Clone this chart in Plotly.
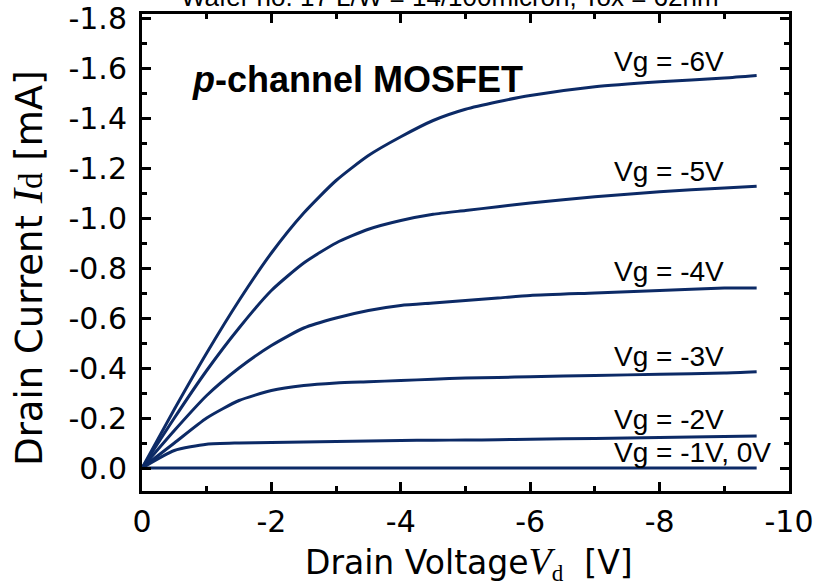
import plotly.graph_objects as go

# ---------------- data ----------------
vd = [0, -0.5, -1, -1.5, -2, -2.5, -3, -3.5, -4, -4.5, -5, -5.5, -6, -7, -8, -9, -9.5]

id_vg6 = [0, -0.235, -0.46, -0.67, -0.86, -1.02, -1.15, -1.25, -1.325, -1.39, -1.435, -1.465, -1.49, -1.525, -1.545, -1.56, -1.57]
id_vg5 = [0, -0.20, -0.39, -0.56, -0.71, -0.82, -0.90, -0.955, -0.99, -1.015, -1.03, -1.045, -1.06, -1.085, -1.105, -1.12, -1.127]
id_vg4 = [0, -0.15, -0.29, -0.40, -0.49, -0.56, -0.60, -0.63, -0.65, -0.66, -0.67, -0.68, -0.69, -0.70, -0.71, -0.72, -0.72]
id_vg3 = [0, -0.10, -0.20, -0.27, -0.31, -0.33, -0.34, -0.345, -0.35, -0.355, -0.36, -0.362, -0.365, -0.37, -0.375, -0.38, -0.385]
id_vg2 = [0, -0.07, -0.095, -0.10, -0.102, -0.104, -0.106, -0.108, -0.11, -0.111, -0.112, -0.113, -0.115, -0.118, -0.122, -0.126, -0.128]
id_vg1 = [0, 0, 0, 0, 0, 0, 0, 0, 0, 0, 0, 0, 0, 0, 0, 0, 0]

series = [id_vg6, id_vg5, id_vg4, id_vg3, id_vg2, id_vg1]
labels = ["Vg = -6V", "Vg = -5V", "Vg = -4V", "Vg = -3V", "Vg = -2V", "Vg = -1V, 0V"]
label_x = -7.27
label_y = [-1.57, -1.13, -0.73, -0.39, -0.135, -0.005]

x_tickvals = [0, -2, -4, -6, -8, -10]
x_ticktext = ["0", "-2", "-4", "-6", "-8", "-10"]
y_tickvals = [0, -0.2, -0.4, -0.6, -0.8, -1.0, -1.2, -1.4, -1.6, -1.8]
y_ticktext = ["0.0", "-0.2", "-0.4", "-0.6", "-0.8", "-1.0", "-1.2", "-1.4", "-1.6", "-1.8"]

title_text = "Wafer no. 17 L/W = 14/100micron, Tox = 62nm"

# ---------------- figure ----------------
LINE = "#0c2a66"
SANS = "Liberation Sans, Arial, sans-serif"
WIDE = "DejaVu Sans, sans-serif"

fig = go.Figure()
for s in series:
    fig.add_trace(go.Scatter(x=vd, y=s, mode="lines",
                             line=dict(color=LINE, width=3, shape="spline", smoothing=0.6),
                             showlegend=False, hoverinfo="skip"))

for txt, yv in zip(labels, label_y):
    fig.add_annotation(x=label_x, y=yv, text=txt, showarrow=False,
                       xanchor="left", yanchor="bottom", yshift=-3,
                       font=dict(family=SANS, size=28, color="black"))

fig.add_annotation(xref="paper", yref="paper", x=0.074, y=0.862,
                   text="<b><i>p</i>-channel MOSFET</b>", showarrow=False,
                   xanchor="left", yanchor="middle",
                   font=dict(family=SANS, size=36, color="black"))

fig.add_annotation(xref="paper", yref="paper", x=0.476, y=1.0, yshift=17,
                   text=title_text, showarrow=False,
                   xanchor="center", yanchor="middle",
                   font=dict(family=SANS, size=26, color="black"))

fig.add_annotation(xref="paper", yref="paper", x=-0.178, y=0.4675,
                   text="Drain Current <span style='font-family:Liberation Serif;font-size:43px'><i>I</i></span>"
                        "<span style='font-family:Liberation Serif;font-size:33px'>d</span> [mA]",
                   textangle=-90, showarrow=False,
                   xanchor="center", yanchor="middle",
                   font=dict(family=WIDE, size=37, color="black"))

fig.add_annotation(xref="paper", yref="paper", x=0.505, y=-0.151,
                   text="Drain Voltage<span style='font-family:Liberation Serif;font-size:38px'><i>V</i></span>"
                        "<span style='font-family:Liberation Serif'><sub>d</sub></span>  [V]",
                   showarrow=False, xanchor="center", yanchor="middle",
                   font=dict(family=WIDE, size=33, color="black"))

axis_common = dict(showline=True, linecolor="black", linewidth=3, mirror="allticks",
                   ticks="inside", ticklen=9, tickwidth=3, tickcolor="black",
                   showgrid=False, zeroline=False, automargin=False,
                   tickfont=dict(family=WIDE, size=30, color="black"))

fig.update_xaxes(range=[0, -10], tickmode="array", tickvals=x_tickvals, ticktext=x_ticktext,
                 minor=dict(tickmode="linear", tick0=0, dtick=1, ticks="inside", ticklen=5,
                            tickwidth=3, tickcolor="black", showgrid=False),
                 ticklabelstandoff=2, **axis_common)
fig.update_yaxes(range=[0.092, -1.816], tickmode="array", tickvals=y_tickvals, ticktext=y_ticktext,
                 minor=dict(tickmode="linear", tick0=0, dtick=0.1, ticks="inside", ticklen=5,
                            tickwidth=3, tickcolor="black", showgrid=False),
                 ticklabelstandoff=6, **axis_common)

fig.update_layout(width=817, height=587,
                  margin=dict(l=142, r=28, t=14, b=96, autoexpand=False),
                  paper_bgcolor="white", plot_bgcolor="white")

fig.write_html("out.html", config={"displayModeBar": False},
               post_script="document.body.style.margin='0';document.body.style.padding='0';")
